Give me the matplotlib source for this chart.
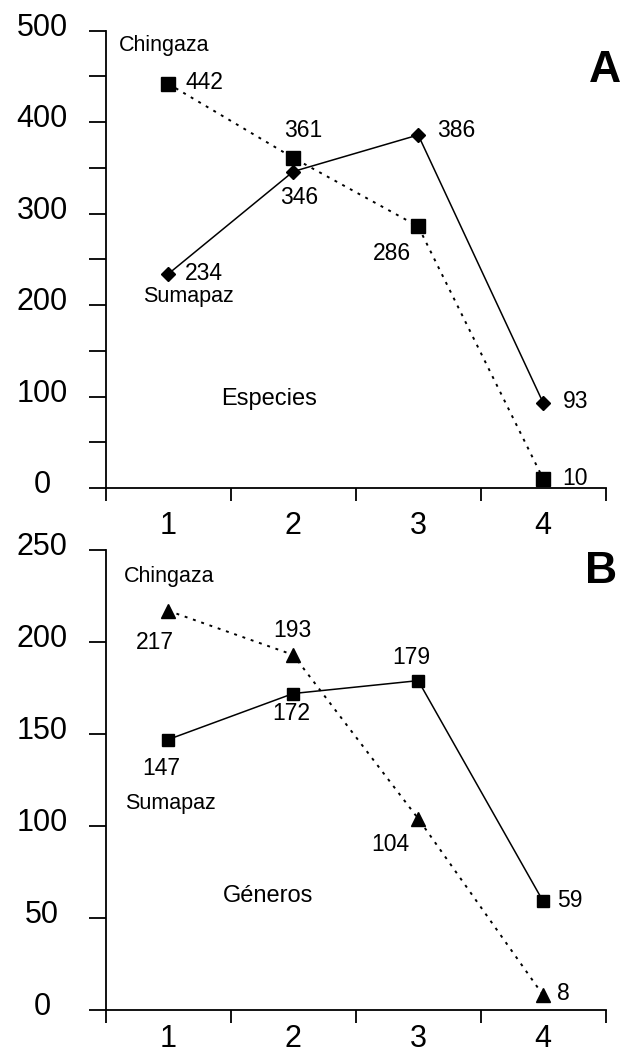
import matplotlib
matplotlib.use("Agg")
import matplotlib.pyplot as plt
import matplotlib.transforms as mtransforms

plt.rcParams['font.family'] = ['Liberation Sans', 'DejaVu Sans']

# ---- data ----
categories = [1, 2, 3, 4]
category_labels = ["1", "2", "3", "4"]
chingaza_especies = [442, 361, 286, 10]
sumapaz_especies = [234, 346, 386, 93]
chingaza_generos = [217, 193, 104, 8]
sumapaz_generos = [147, 172, 179, 59]

# label offsets (pixels: dx, dy of text baseline relative to point)
off_ch_esp = [(36, -5), (10, 21), (-26, -34), (32, -6)]
off_su_esp = [(36, -6), (6, -32), (38, -2), (32, -5)]
off_ch_gen = [(-13, -38), (-1, 18), (-28, -32), (20, -5)]
off_su_gen = [(-7, -35), (-2, -26), (-7, 17), (27, -6)]

W, H = 629, 1050
fig = plt.figure(figsize=(W / 100, H / 100), dpi=100)

ax1 = fig.add_axes([105.7 / W, 1 - 488 / H, 500 / W, 457.3 / H])
ax2 = fig.add_axes([105.7 / W, 1 - 1010 / H, 500 / W, 460 / H])

PX = 0.72  # px -> points at 100 dpi


def style_axes(ax, ymax, major, minor, xpad):
    ax.set_xlim(0.5, 4.5)
    ax.set_ylim(0, ymax)
    for s in ['top', 'right']:
        ax.spines[s].set_visible(False)
    for s in ['left', 'bottom']:
        ax.spines[s].set_linewidth(1.3)
    ax.set_xticks(categories, category_labels)
    ax.set_xticks([0.5, 1.5, 2.5, 3.5, 4.5], minor=True)
    ax.tick_params(axis='x', which='major', length=0, pad=xpad, labelsize=22)
    ax.tick_params(axis='x', which='minor', length=13 * PX, width=1.3, direction='out')
    yt = list(range(0, ymax + 1, major))
    ax.set_yticks(yt, [str(v) for v in yt], ha='center')
    if minor:
        ax.set_yticks(list(range(0, ymax + 1, minor)), minor=True)
    ax.tick_params(axis='y', which='both', length=17 * PX, width=1.3, direction='out')
    ax.tick_params(axis='y', which='major', pad=33.6, labelsize=22)
    off = mtransforms.ScaledTranslation(0, 6.5 / 100, fig.dpi_scale_trans)
    for lbl in ax.get_yticklabels():
        lbl.set_transform(lbl.get_transform() + off)


style_axes(ax1, 500, 100, 50, 16.2)
style_axes(ax2, 250, 50, None, 10)

lw = 1.1
dot = (0, (1.5, 3))

ax1.plot(categories, chingaza_especies, color='black', lw=1.4, ls=dot,
         marker='s', ms=9.5, mfc='black', mec='black', clip_on=False, zorder=3)
ax1.plot(categories, sumapaz_especies, color='black', lw=lw, ls='-',
         marker='D', ms=7, mfc='black', mec='black', clip_on=False, zorder=3)
ax2.plot(categories, chingaza_generos, color='black', lw=1.4, ls=dot,
         marker='^', ms=9.5, mfc='black', mec='black', clip_on=False, zorder=3)
ax2.plot(categories, sumapaz_generos, color='black', lw=lw, ls='-',
         marker='s', ms=8, mfc='black', mec='black', clip_on=False, zorder=3)


def label_points(ax, xs, ys, offs):
    for x, y, (dx, dy) in zip(xs, ys, offs):
        ax.annotate(str(y), xy=(x, y), xytext=(dx * PX, dy * PX),
                    textcoords='offset points', ha='center', va='baseline',
                    fontsize=16.5, annotation_clip=False)


label_points(ax1, categories, chingaza_especies, off_ch_esp)
label_points(ax1, categories, sumapaz_especies, off_su_esp)
label_points(ax2, categories, chingaza_generos, off_ch_gen)
label_points(ax2, categories, sumapaz_generos, off_su_gen)

ax1.text(0.606, 477.8, "Chingaza", ha='left', va='baseline', fontsize=15.5)
ax1.text(0.798, 203.4, "Sumapaz", ha='left', va='baseline', fontsize=15.5)
ax1.text(1.422, 90.7, "Especies", ha='left', va='baseline', fontsize=17)
ax1.text(0.999, 0.888, "A", transform=ax1.transAxes, ha='center', va='baseline',
         fontsize=32, fontweight='bold', clip_on=False)

ax2.text(0.646, 232.8, "Chingaza", ha='left', va='baseline', fontsize=15.5)
ax2.text(0.654, 109, "Sumapaz", ha='left', va='baseline', fontsize=15.5)
ax2.text(1.438, 58.5, "Géneros", ha='left', va='baseline', fontsize=17)
ax2.text(0.99, 0.928, "B", transform=ax2.transAxes, ha='center', va='baseline',
         fontsize=32, fontweight='bold', clip_on=False)

fig.savefig("out.png", dpi=100)
